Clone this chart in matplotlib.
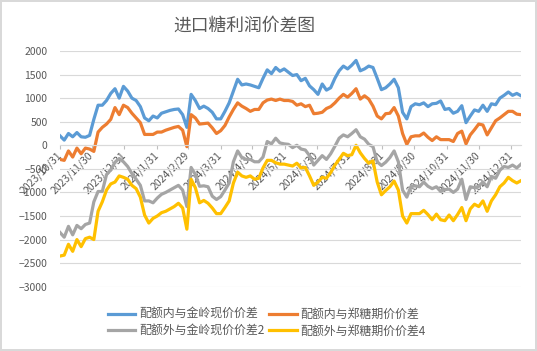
"""Import sugar profit spread chart (进口糖利润价差图), Excel-style line chart."""

import matplotlib
matplotlib.use("Agg")
import matplotlib.pyplot as plt
import pandas as pd

plt.rcParams["font.family"] = ["Noto Sans CJK SC", "DejaVu Sans"]

# sampled every 4 calendar days from 2023/10/31
dates = pd.date_range("2023-10-31", periods=110, freq="4D")

quota_in_spot = [
    200, 110, 250, 180, 270, 180, 170, 210, 550, 850,
    850, 950, 1100, 1200, 1000, 1250, 1150, 1000, 950, 820,
    580, 520, 620, 580, 680, 710, 740, 760, 770, 650,
    380, 1080, 950, 780, 830, 780, 700, 560, 560, 720,
    900, 1150, 1400, 1280, 1300, 1280, 1250, 1220, 1420, 1600,
    1520, 1650, 1570, 1620, 1550, 1480, 1500, 1370, 1420, 1260,
    1180, 1080, 1300, 1170, 1220, 1420, 1580, 1680, 1620, 1700,
    1800, 1580, 1620, 1680, 1650, 1420, 1180, 1220, 1300, 1400,
    1220, 700, 560, 820, 880, 860, 900, 820, 880, 890,
    940, 760, 780, 680, 720, 840, 480, 620, 750, 720,
    850, 720, 880, 860, 1000, 1060, 1130, 1060, 1100, 1050,
]
quota_in_futures = [
    -300, -320, -120, -250, -60, -180, -60, -80, -130, 280,
    380, 450, 550, 800, 650, 850, 800, 680, 580, 480,
    230, 230, 230, 280, 280, 320, 350, 380, 400, 320,
    -30, 650, 580, 450, 460, 470, 370, 250, 310, 420,
    600, 760, 900, 830, 780, 720, 760, 760, 900, 960,
    980, 950, 980, 950, 950, 930, 850, 880, 820, 850,
    670, 680, 700, 780, 820, 900, 1000, 1080, 1020, 1100,
    1200, 980, 1050, 980, 830, 620, 560, 670, 680, 800,
    620, 250, 20, 180, 200, 200, 260, 170, 100, 180,
    120, 120, 120, 80, 250, 300, 30, 220, 330, 450,
    430, 220, 370, 520, 580, 650, 720, 720, 660, 650,
]
quota_out_spot = [
    -1850, -1950, -1720, -1900, -1700, -1770, -1680, -1650, -1200, -980,
    -980, -620, -520, -360, -280, -350, -450, -600, -720, -850,
    -1180, -1180, -1220, -1120, -1040, -1000, -950, -900, -850, -950,
    -1300, -470, -620, -870, -860, -880, -1080, -1150, -1090, -950,
    -800, -350, -120, -260, -300, -300, -350, -350, -250, 80,
    30, 150, 50, 30, 20, -50, 0, -80, -100, -220,
    -420, -320, -220, -300, -180, -20, 150, 220, 180, 250,
    330, 180, 130, 20, -30, -350, -430, -360, -260, -120,
    -350, -950, -1100, -870, -860, -880, -780, -870, -920, -880,
    -980, -940, -930, -1000, -930, -720, -1150, -880, -900, -870,
    -780, -880, -660, -700, -530, -450, -470, -420, -480, -400,
]
quota_out_futures = [
    -2350, -2330, -2100, -2250, -2000, -2150, -1980, -1950, -2000, -1400,
    -1200, -950, -820, -780, -650, -680, -720, -850, -920, -1100,
    -1480, -1650, -1550, -1500, -1430, -1400, -1350, -1300, -1230, -1330,
    -1780, -720, -900, -1220, -1170, -1230, -1330, -1450, -1450, -1320,
    -1180, -800, -570, -650, -680, -650, -720, -700, -480, -320,
    -320, -370, -400, -400, -420, -440, -380, -480, -470, -650,
    -850, -780, -680, -700, -580, -420, -300, -170, -220, -200,
    0, -160, -280, -380, -330, -780, -1050, -960, -880, -760,
    -950, -1500, -1650, -1450, -1450, -1450, -1380, -1470, -1580, -1460,
    -1580, -1600, -1480, -1600, -1470, -1320, -1600, -1350, -1250, -1300,
    -1180, -1400, -1180, -1050, -880, -800, -680, -750, -800, -750,
]

series_names = ["配额内与金岭现价价差", "配额内与郑糖期价价差",
                "配额外与金岭现价价差2", "配额外与郑糖期价价差4"]
series_colors = ["#5B9BD5", "#ED7D31", "#A5A5A5", "#FFC000"]

tick_dates = ["2023-10-31", "2023-11-30", "2023-12-31", "2024-01-31",
              "2024-02-29", "2024-03-31", "2024-04-30", "2024-05-31",
              "2024-06-30", "2024-07-31", "2024-08-31", "2024-09-30",
              "2024-10-31", "2024-11-30", "2024-12-31"]
tick_labels = ["2023/10/31", "2023/11/30", "2023/12/31", "2024/1/31",
               "2024/2/29", "2024/3/31", "2024/4/30", "2024/5/31",
               "2024/6/30", "2024/7/31", "2024/8/31", "2024/9/30",
               "2024/10/31", "2024/11/30", "2024/12/31"]

W, H = 537, 351
fig = plt.figure(figsize=(W / 100, H / 100), dpi=100)
fig.patch.set_edgecolor("#d9d9d9")
fig.patch.set_linewidth(1.5)
ax = fig.add_axes([60 / W, 1 - 286.7 / H, 461 / W, 235.7 / H])

all_series = [quota_in_spot, quota_in_futures, quota_out_spot, quota_out_futures]
handles = []
for values, name, color in zip(all_series, series_names, series_colors):
    (line,) = ax.plot(dates, values, color=color, lw=2.3, label=name,
                      solid_joinstyle="round")
    handles.append(line)

ax.set_xlim(dates[0], dates[-1])
ax.set_ylim(-3000, 2000)
ax.set_yticks(range(-3000, 2001, 500))
ax.yaxis.grid(True, color="#d9d9d9", lw=0.8)
ax.set_axisbelow(True)
for side in ("top", "right", "left"):
    ax.spines[side].set_visible(False)
ax.spines["bottom"].set_position(("data", 0))
ax.spines["bottom"].set_color("#d9d9d9")
ax.spines["bottom"].set_linewidth(0.8)

ax.set_xticks(pd.to_datetime(tick_dates))
ax.set_xticklabels(tick_labels, rotation=45, ha="right", va="center",
                   rotation_mode="anchor")
ax.tick_params(axis="x", length=3, color="#bfbfbf", pad=3,
               labelsize=7.5, labelcolor="#595959")
ax.tick_params(axis="y", length=0, pad=9, labelsize=7.5, labelcolor="#595959")

fig.text(244 / W, 1 - 26 / H, "进口糖利润价差图", ha="center", va="center",
         fontsize=12.8, color="#595959")

# Excel fills legend row by row, matplotlib column by column
order = [0, 2, 1, 3]
fig.legend([handles[i] for i in order], [series_names[i] for i in order],
           ncol=2, loc="upper left", bbox_to_anchor=(108 / W, 1 - 308 / H),
           frameon=False, fontsize=8.6, handlelength=2.3, handletextpad=0.3,
           columnspacing=0.4, labelspacing=0.3, borderpad=0, borderaxespad=0,
           labelcolor="#595959")

fig.savefig("out.png", dpi=100)
